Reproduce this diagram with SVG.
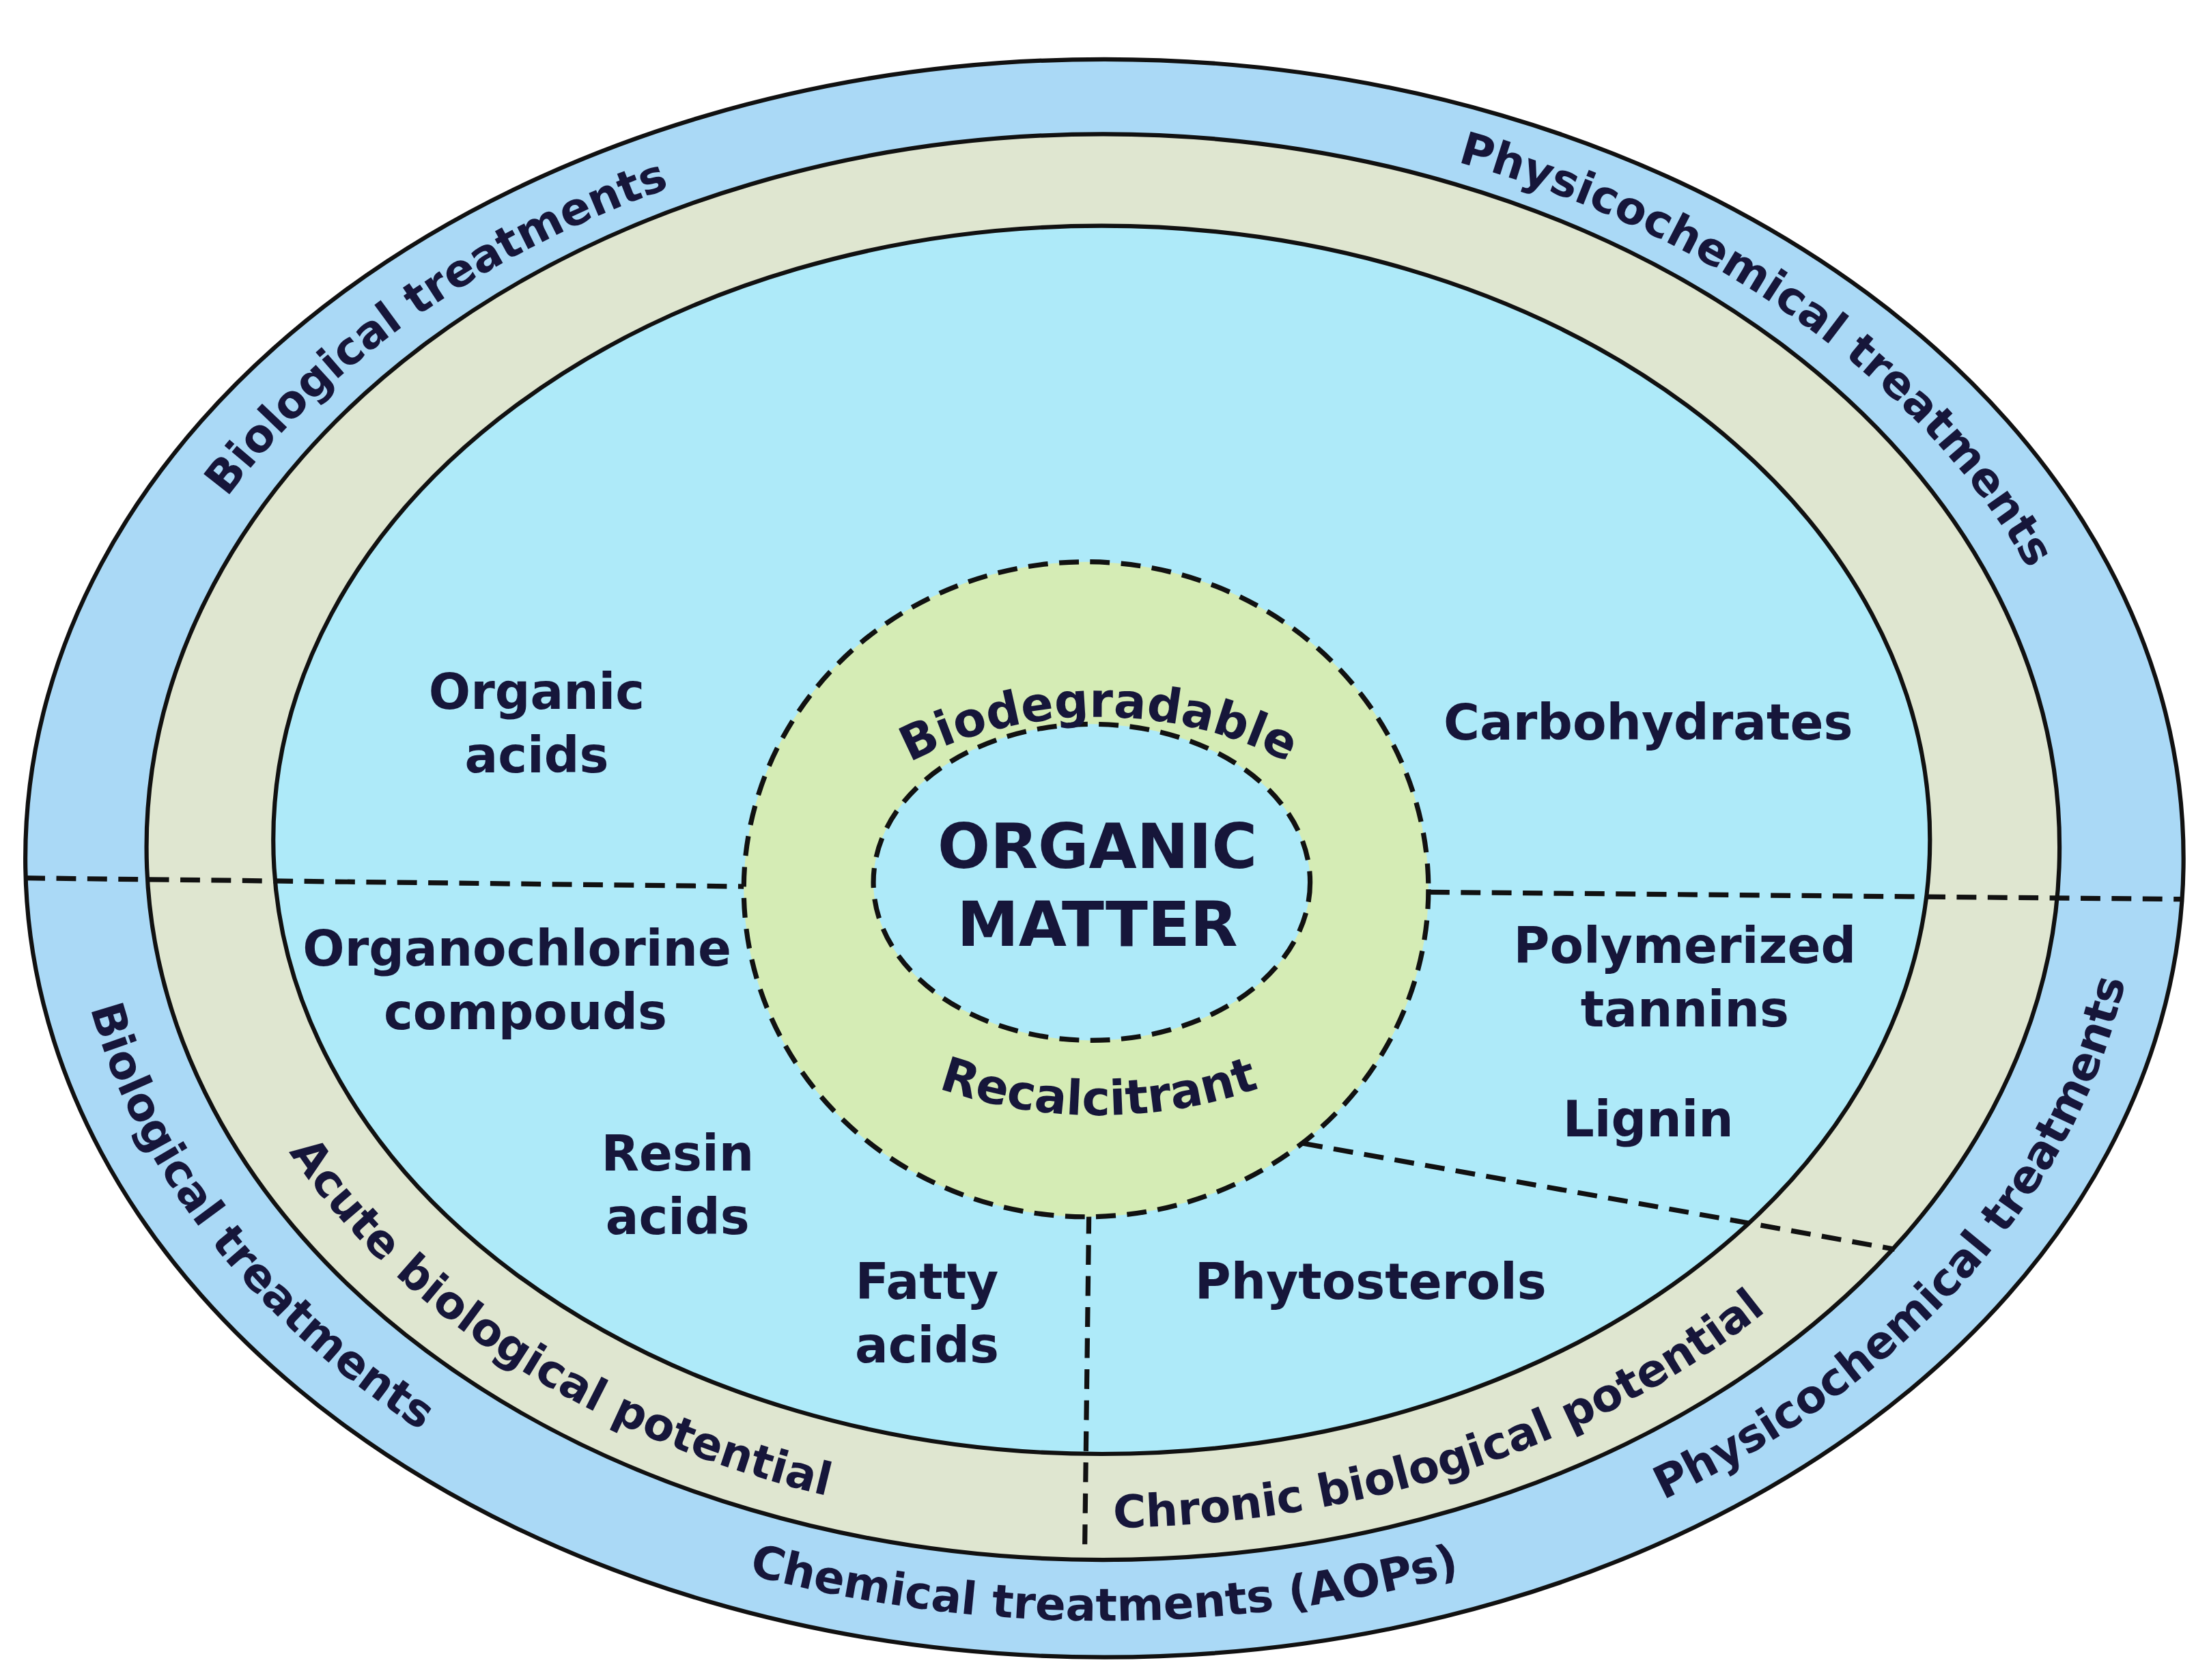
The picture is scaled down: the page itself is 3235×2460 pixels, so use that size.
<svg xmlns="http://www.w3.org/2000/svg" width="3235" height="2460" viewBox="0 0 3235 2460">
<style>
.t{font-family:"DejaVu Sans",Verdana,sans-serif;font-weight:bold;fill:#16163a;font-size:35px}
.b{font-size:32px}
.dash{fill:none;stroke:#111;stroke-width:3.5;stroke-dasharray:14 8}
</style>
<defs>
<path id="outTop" d="M72,608 A712,527 0 1 1 1496,608 A712,527 0 1 1 72,608"/>
<path id="outBot" d="M50,608 A734,540 0 1 0 1518,608 A734,540 0 1 0 50,608"/>
<path id="begBot" d="M136,598 A646,484 0 1 0 1428,598 A646,484 0 1 0 136,598"/>
<path id="bio" d="M550,680 A230,172 0 1 1 1010,680 A230,172 0 1 1 550,680"/>
<path id="rec" d="M520,600 A260,190 0 1 0 1040,600 A260,190 0 1 0 520,600"/>
</defs>
<rect width="3235" height="2460" fill="#fff"/>
<g transform="scale(2.063,2.067)">
<g id="outer"><ellipse cx="784" cy="608" rx="766" ry="566" fill="#aad9f6" stroke="#111" stroke-width="3"/></g>
<g id="beige"><ellipse cx="783" cy="600" rx="679" ry="505" fill="#dfe6d0" stroke="#111" stroke-width="3"/></g>
<g id="inner"><ellipse cx="782" cy="595" rx="588" ry="435" fill="#aeeaf9" stroke="#111" stroke-width="3"/></g>
<g id="connectors">
<path class="dash" d="M18,622 L528,628"/>
<path class="dash" d="M1015,632 L1550,637"/>
<path class="dash" d="M773,860 L770,1100"/>
<path class="dash" d="M925,810 L1345,885"/>
</g>
<g id="ring"><ellipse cx="771" cy="630" rx="243" ry="232" fill="#d5ecb5"/><ellipse class="dash" cx="771" cy="630" rx="243" ry="232"/></g>
<g id="core"><ellipse cx="775" cy="625" rx="155" ry="112" fill="#aeeaf9"/><ellipse class="dash" cx="775" cy="625" rx="155" ry="112"/>
<text class="t" x="779" y="615" text-anchor="middle" style="font-size:44px">ORGANIC</text>
<text class="t" x="779" y="670" text-anchor="middle" style="font-size:44px">MATTER</text></g>
<g id="ringlabels">
<text class="t" style="font-size:34px"><textPath href="#bio" startOffset="25%" text-anchor="middle">Biodegradable</textPath></text>
<text class="t" style="font-size:34px"><textPath href="#rec" startOffset="25%" text-anchor="middle">Recalcitrant</textPath></text>
</g>
<g id="bandlabels">
<text class="t b"><textPath href="#outTop" startOffset="12%" text-anchor="middle">Biological treatments</textPath></text>
<text class="t b"><textPath href="#outTop" startOffset="38%" text-anchor="middle">Physicochemical treatments</textPath></text>
<text class="t b"><textPath href="#outBot" startOffset="7.5%" text-anchor="middle">Biological treatments</textPath></text>
<text class="t b"><textPath href="#outBot" startOffset="25%" text-anchor="middle">Chemical treatments (AOPs)</textPath></text>
<text class="t b"><textPath href="#outBot" startOffset="41.5%" text-anchor="middle">Physicochemical treatments</textPath></text>
<text class="t b"><textPath href="#begBot" startOffset="13%" text-anchor="middle">Acute biological potential</textPath></text>
<text class="t b"><textPath href="#begBot" startOffset="32.2%" text-anchor="middle">Chronic biological potential</textPath></text>
</g>
<g id="labels" text-anchor="middle">
<text class="t" x="381" y="502">Organic</text><text class="t" x="381" y="547">acids</text>
<text class="t" x="1170" y="524">Carbohydrates</text>
<text class="t" x="367" y="684">Organochlorine</text><text class="t" x="373" y="729">compouds</text>
<text class="t" x="1196" y="682">Polymerized</text><text class="t" x="1196" y="727">tannins</text>
<text class="t" x="1170" y="805">Lignin</text>
<text class="t" x="481" y="829">Resin</text><text class="t" x="481" y="874">acids</text>
<text class="t" x="658" y="920">Fatty</text><text class="t" x="658" y="965">acids</text>
<text class="t" x="973" y="920">Phytosterols</text>
</g>
</g>
</svg>
